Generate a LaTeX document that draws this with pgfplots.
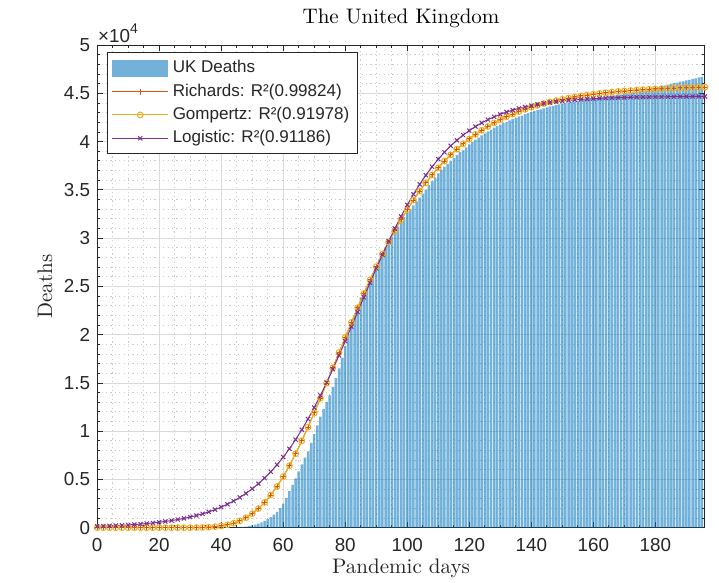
\documentclass[border=0pt]{standalone}
\usepackage{fontspec}
\setsansfont{Liberation Sans}
\usepackage{pgfplots}
\usepackage{pgfplotstable}
\pgfplotsset{compat=1.18}
\definecolor{mBlue}{rgb}{0,0.447,0.741}
\definecolor{mRed}{rgb}{0.850,0.325,0.098}
\definecolor{mYel}{rgb}{0.929,0.694,0.125}
\definecolor{mPur}{rgb}{0.494,0.184,0.556}
\definecolor{axc}{rgb}{0.15,0.15,0.15}
\pgfplotsset{
  barleg/.style={legend image code/.code={\fill[##1] (0pt,-4.3pt) rectangle (28pt,4.3pt);}},
  lineleg/.style={legend image code/.code={\draw[mark repeat=2,mark phase=2,##1] plot coordinates {(0pt,0pt) (14pt,0pt) (28pt,0pt)};}},
}

\pgfplotstableread{
d v
44 20
45 35
46 55
47 85
48 120
49 180
50 250
51 330
52 420
53 550
54 700
55 880
56 1100
57 1350
58 1650
59 2050
60 2500
61 3100
62 3800
63 4450
64 5100
65 5850
66 6550
67 7250
68 7900
69 8800
70 9700
71 10600
72 11500
73 12300
74 13000
75 13700
76 14600
77 15500
78 16500
79 17600
80 18800
81 20000
82 21000
83 22000
84 23000
85 23800
86 24400
87 25000
88 25700
89 26400
90 27100
91 27800
92 28400
93 29000
94 29500
95 30100
96 30700
97 31200
98 31700
99 32200
100 32600
101 33000
102 33400
103 33800
104 34200
105 34600
106 35000
107 35500
108 35900
109 36300
110 36700
111 37100
112 37400
113 37700
114 38000
115 38300
116 38600
117 38900
118 39100
119 39400
120 39700
121 39950
122 40200
123 40400
124 40650
125 40850
126 41050
127 41250
128 41450
129 41600
130 41750
131 41900
132 42050
133 42200
134 42350
135 42450
136 42600
137 42700
138 42850
139 42950
140 43050
141 43150
142 43250
143 43350
144 43450
145 43550
146 43650
147 43700
148 43800
149 43850
150 43950
151 44000
152 44050
153 44100
154 44150
155 44200
156 44250
157 44300
158 44350
159 44400
160 44450
161 44500
162 44550
163 44600
164 44650
165 44700
166 44750
167 44800
168 44850
169 44900
170 44950
171 45000
172 45050
173 45100
174 45150
175 45200
176 45300
177 45350
178 45450
179 45500
180 45600
181 45650
182 45750
183 45800
184 45900
185 45950
186 46050
187 46100
188 46200
189 46250
190 46350
191 46400
192 46500
193 46550
194 46650
195 46700
}\bars

\pgfplotstableread{
t G L
0 0 147
2 0 169
4 0 193
6 0 221
8 0 253
10 0 290
12 0 332
14 0 380
16 0 434
18 0 497
20 0 569
22 0 650
24 0 744
26 1 850
28 3 970
30 7 1109
32 15 1266
34 30 1444
36 58 1646
38 106 1876
40 183 2136
42 300 2431
44 470 2763
46 708 3137
48 1034 3559
50 1452 4030
52 1980 4557
54 2620 5144
56 3390 5797
58 4280 6516
60 5290 7316
62 6430 8181
64 7660 9130
66 9000 10157
68 10420 11265
70 11890 12448
72 13410 13707
74 14990 15030
76 16570 16416
78 18140 17851
80 19710 19326
82 21270 20830
84 22790 22350
86 24250 23870
88 25670 25370
90 27040 26850
92 28350 28280
94 29600 29670
96 30780 31000
98 31900 32250
100 32950 33440
102 33940 34540
104 34870 35570
106 35730 36520
108 36540 37390
110 37280 38180
112 37980 38900
114 38620 39560
116 39220 40140
118 39760 40670
120 40270 41140
122 40740 41560
124 41170 41940
126 41570 42270
128 41930 42560
130 42260 42820
132 42570 43060
134 42850 43260
136 43110 43440
138 43340 43590
140 43560 43730
142 43750 43850
144 43940 43960
146 44100 44050
148 44250 44130
150 44380 44200
152 44510 44270
154 44620 44320
156 44730 44370
158 44820 44410
160 44910 44450
162 44990 44480
164 45060 44510
166 45130 44530
168 45190 44550
170 45240 44570
172 45290 44590
174 45340 44600
176 45380 44610
178 45420 44620
180 45450 44630
182 45480 44640
184 45510 44645
186 45540 44650
188 45560 44660
190 45580 44665
192 45600 44670
194 45620 44675
196 45640 44680
}\fits

\begin{document}
\begin{tikzpicture}
\begin{axis}[
  at={(0,0)}, anchor=south west,
  scale only axis, width=303.5pt, height=241pt,
  xmin=0, xmax=196, ymin=0, ymax=50000,
  xtick={0,20,...,180}, minor x tick num=3,
  ytick={0,5000,10000,15000,20000,25000,30000,35000,40000,45000,50000},
  yticklabels={0,0.5,1,1.5,2,2.5,3,3.5,4,4.5,5},
  minor y tick num=4,
  scaled y ticks=false,
  tick align=inside, major tick length=3pt, minor tick length=1.6pt,
  grid=both,
  major grid style={draw=black!14, line width=0.4pt},
  minor grid style={draw=black!20, line width=0.4pt, dash pattern=on 0.6pt off 1.6pt},
  axis line style={draw=axc, line width=0.5pt},
  every tick/.style={draw=axc, line width=0.4pt},
  ticklabel style={font=\sffamily\fontsize{9.4}{11}\selectfont, text=axc},
  /pgf/number format/assume math mode=true,
  xticklabel style={anchor=base, yshift=-12pt},
  title={The United Kingdom},
  title style={at={(0.5,1)}, anchor=base, yshift=5pt, font=\fontsize{10.5}{12}\selectfont},
  xlabel={Pandemic days},
  xlabel style={at={(axis description cs:0.5,-0.0954)}, anchor=base, font=\fontsize{10.5}{12}\selectfont, text=axc},
  ylabel={Deaths},
  ylabel style={at={(axis description cs:-0.0741,0.5)}, anchor=base, font=\fontsize{10.5}{12}\selectfont, text=axc},
  legend cell align=left,
  legend style={at={(0.0165,0.9855)}, anchor=north west, draw=black!85, line width=0.5pt,
    fill=white, font=\sffamily\fontsize{8.5}{10}\selectfont, text=axc,
    inner xsep=2pt, inner ysep=2pt, row sep=0pt},
]
\addplot[ybar, bar width=0.8, fill=mBlue, fill opacity=0.55, draw=none, barleg]
  table[x=d,y=v] {\bars};
\addlegendentry{UK Deaths}
\addplot[draw=mRed, color=mRed, line width=0.5pt, mark=+, mark size=1.5pt, lineleg]
  table[x=t,y=G] {\fits};
\addlegendentry{Richards: R²(0.99824)}
\addplot[draw=mYel, color=mYel, line width=0.5pt, mark=o, mark size=1.45pt, lineleg]
  table[x=t,y=G] {\fits};
\addlegendentry{Gompertz: R²(0.91978)}
\addplot[draw=mPur, color=mPur, line width=0.5pt, mark=x, mark size=1.45pt, lineleg]
  table[x=t,y=L] {\fits};
\addlegendentry{Logistic: R²(0.91186)}
\end{axis}
\node[anchor=base west, inner sep=0pt, text=axc, font=\sffamily\fontsize{9.4}{11}\selectfont]
  at (0.3pt,242.2pt) {×10\raisebox{0.9ex}{\fontsize{7}{8}\selectfont 4}};
\pgfresetboundingbox
\path (-48.5pt,-27.5pt) rectangle (310.5pt,263.5pt);
\end{tikzpicture}
\end{document}
